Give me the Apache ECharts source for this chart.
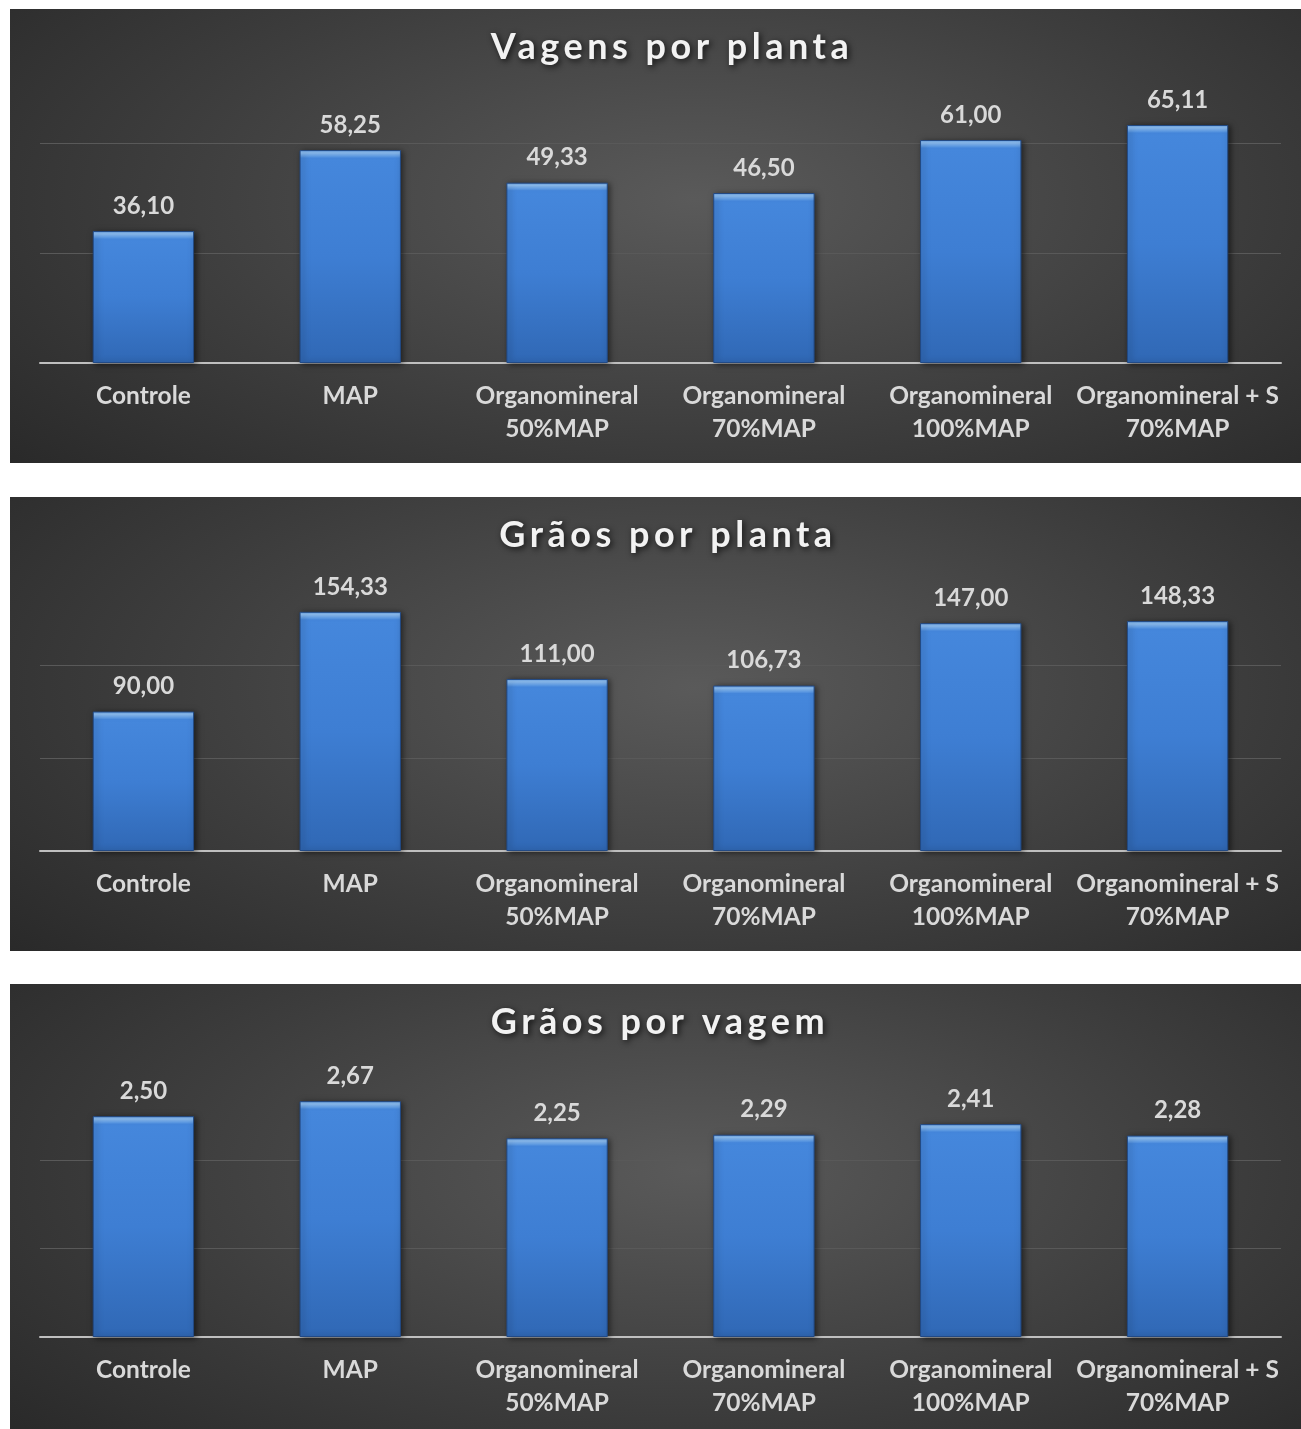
<!DOCTYPE html>
<html>
<head>
<meta charset="utf-8">
<script src="https://cdn.jsdelivr.net/npm/echarts@6/dist/echarts.min.js"></script>
<style>
  html, body { margin: 0; padding: 0; background: #ffffff; }
  body { width: 1301px; height: 1429px; position: relative; overflow: hidden; }
  .panel {
    position: absolute; left: 10px; width: 1291px;
    background: radial-gradient(ellipse 75% 95% at 53% 42%, #5a5a5a 0%, #3d3d3d 55%, #262626 100%);
  }
  .ttl { position: absolute; left: 10px; width: 1291px; height: 80px; z-index: 2; }
</style>
</head>
<body>
<div id="c1" class="panel" style="top:9px;height:454px;"></div>
<div id="c2" class="panel" style="top:497px;height:454px;"></div>
<div id="c3" class="panel" style="top:984px;height:445px;"></div>
<div id="t1" class="ttl" style="top:9px;"></div>
<div id="t2" class="ttl" style="top:497px;"></div>
<div id="t3" class="ttl" style="top:984px;"></div>
<script>
const categories = [
  'Controle',
  'MAP',
  'Organomineral\n50%MAP',
  'Organomineral\n70%MAP',
  'Organomineral\n100%MAP',
  'Organomineral + S\n70%MAP'
];
const vagensPorPlanta = [36.10, 58.25, 49.33, 46.50, 61.00, 65.11];
const graosPorPlanta = [90.00, 154.33, 111.00, 106.73, 147.00, 148.33];
const graosPorVagem = [2.50, 2.67, 2.25, 2.29, 2.41, 2.28];
const titles = ['Vagens por planta', 'Grãos por planta', 'Grãos por vagem'];

const FONT = 'Lato';

function fmt(v) { return v.toFixed(2).replace('.', ','); }

function barStyle(heightPx) {
  const b = Math.min(0.5, 8 / heightPx);
  return {
    color: {
      type: 'linear', x: 0, y: 0, x2: 0, y2: 1,
      colorStops: [
        { offset: 0, color: '#6aa6ec' },
        { offset: b * 0.35, color: '#8fc1f6' },
        { offset: b * 0.8, color: '#5d9be6' },
        { offset: b, color: '#4587dc' },
        { offset: 0.5, color: '#3e7ed3' },
        { offset: 1, color: '#3068b5' }
      ]
    },
    borderColor: '#224a85',
    borderWidth: 1,
    shadowColor: 'rgba(0,0,0,0.55)',
    shadowBlur: 6,
    shadowOffsetX: 2,
    shadowOffsetY: 1
  };
}

function makeTitle(id, title, titleX) {
  const el = document.getElementById(id);
  const chart = echarts.init(el, null, { renderer: 'canvas' });
  const opt = {
    backgroundColor: 'transparent',
    animation: false,
    title: {
      text: title,
      left: titleX,
      top: 16,
      textAlign: 'center',
      padding: 0,
      textStyle: {
        fontFamily: FONT,
        fontSize: 36,
        fontWeight: 'bold',
        color: '#f2f2f2',
        lineHeight: 44,
        textShadowColor: 'rgba(0,0,0,0.75)',
        textShadowBlur: 6,
        textShadowOffsetX: 2,
        textShadowOffsetY: 2
      }
    }
  };
  chart.setOption(opt);
  const cv = el.querySelector('canvas');
  if (cv) {
    const ctx = cv.getContext('2d');
    try { ctx.letterSpacing = '4.5px'; } catch (e) {}
    chart.clear();
    chart.setOption(opt, true);
  }
  return chart;
}

function makeChart(id, values, maxV, interval, gridTop, gridBottom) {
  const el = document.getElementById(id);
  const chart = echarts.init(el, null, { renderer: 'canvas' });
  const h = el.clientHeight;
  const plotH = h - gridTop - gridBottom;
  const data = values.map(v => ({ value: v, itemStyle: barStyle(v / maxV * plotH) }));
  chart.setOption({
    backgroundColor: 'transparent',
    animation: false,
    grid: { left: 30, right: 20, top: gridTop, bottom: gridBottom, containLabel: false },
    xAxis: {
      type: 'category',
      data: categories,
      axisLine: { show: true, lineStyle: { color: '#bfbfbf', width: 2 } },
      axisTick: { show: false },
      axisLabel: {
        interval: 0,
        margin: 17,
        color: '#d9d9d9',
        fontFamily: FONT,
        fontWeight: 'bold',
        fontSize: 24.5,
        lineHeight: 33
      }
    },
    yAxis: {
      type: 'value',
      min: 0,
      max: maxV,
      interval: interval,
      axisLine: { show: false },
      axisTick: { show: false },
      axisLabel: { show: false },
      splitLine: { show: true, lineStyle: { color: ['rgba(0,0,0,0)', '#595959', '#595959', 'rgba(0,0,0,0)'], width: 1 } }
    },
    series: [{
      type: 'bar',
      data: data,
      barCategoryGap: '51%',
      label: {
        show: true,
        position: 'top',
        distance: 13,
        formatter: p => fmt(p.value),
        color: '#d9d9d9',
        fontFamily: FONT,
        fontWeight: 'bold',
        fontSize: 24
      }
    }]
  });
  return chart;
}

makeChart('c1', vagensPorPlanta, 90, 30, 25, 100);
makeChart('c2', graosPorPlanta, 180, 60, 75, 100);
makeChart('c3', graosPorVagem, 3, 1, 88, 92);
makeTitle('t1', titles[0], 662);
makeTitle('t2', titles[1], 658);
makeTitle('t3', titles[2], 650);
</script>
</body>
</html>
